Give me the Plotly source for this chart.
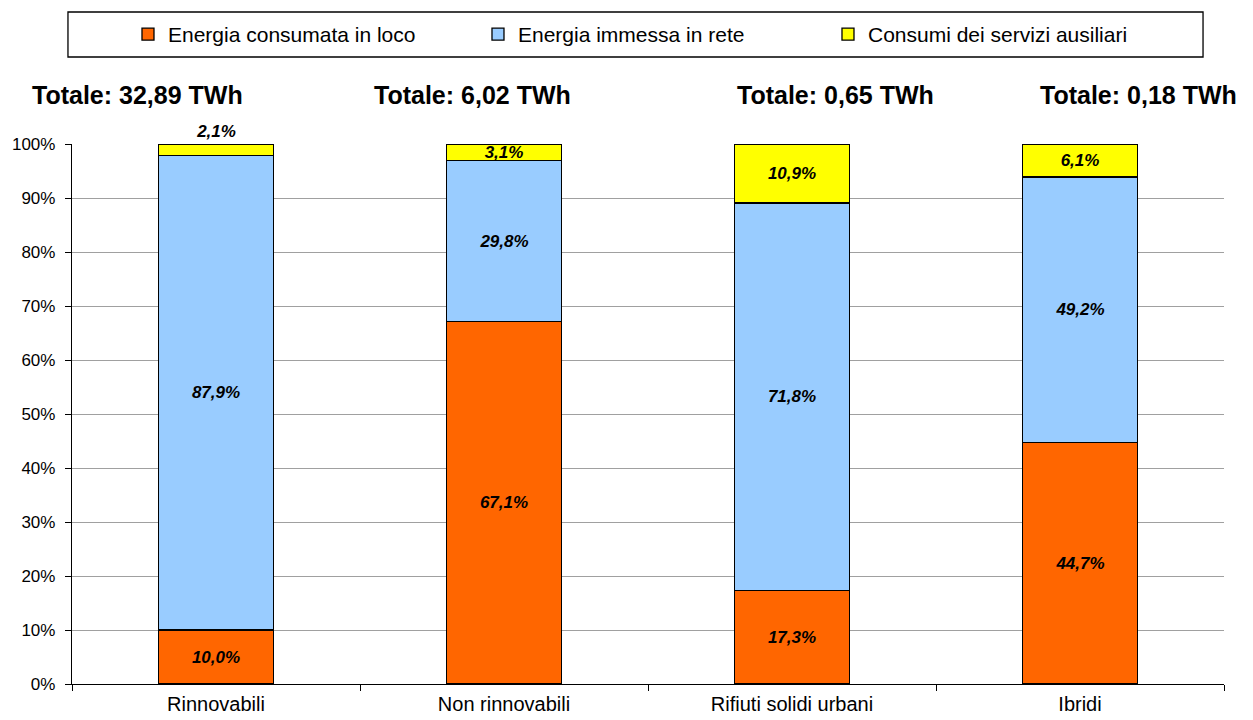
import plotly.graph_objects as go

categories = ["Rinnovabili", "Non rinnovabili", "Rifiuti solidi urbani", "Ibridi"]
consumata = [10.0, 67.1, 17.3, 44.7]
immessa = [87.9, 29.8, 71.8, 49.2]
ausiliari = [2.1, 3.1, 10.9, 6.1]
totali = ["Totale: 32,89 TWh", "Totale: 6,02 TWh", "Totale: 0,65 TWh", "Totale: 0,18 TWh"]
series_names = ["Energia consumata in loco", "Energia immessa in rete", "Consumi dei servizi ausiliari"]

FONT = "Liberation Sans, Arial, sans-serif"
colors = ["#FF6600", "#99CCFF", "#FFFF00"]

fig = go.Figure()
for name, vals, col, pos in [
    (series_names[0], consumata, colors[0], "inside"),
    (series_names[1], immessa, colors[1], "inside"),
    (series_names[2], ausiliari, colors[2], ["outside", "inside", "inside", "inside"]),
]:
    fig.add_trace(go.Bar(
        x=categories, y=vals, name=name,
        marker=dict(color=col, line=dict(color="black", width=1.3)),
        width=0.4,
        texttemplate="%{y:.1f}%",
        textposition=pos,
        insidetextanchor="middle",
        constraintext="none",
        cliponaxis=False,
        textfont=dict(family=FONT, size=17, color="black", weight="bold", style="italic"),
    ))

annotations = []
xs = [0.057, 0.348, 0.663, 0.926]
for t, xp in zip(totali, xs):
    annotations.append(dict(text=t, x=xp, y=1.091, xref="paper", yref="paper",
                            showarrow=False, xanchor="center", yanchor="middle",
                            font=dict(family=FONT, size=25, color="black", weight="bold")))

fig.update_layout(
    width=1245, height=712,
    barmode="stack",
    separators=",.",
    paper_bgcolor="white", plot_bgcolor="white",
    margin=dict(l=64, r=29, t=136, b=36, autoexpand=False),
    font=dict(family=FONT, color="black"),
    showlegend=True,
    legend=dict(orientation="h", x=0.0486, y=1.2028, xanchor="left", yanchor="middle",
                xref="paper", yref="paper",
                font=dict(family=FONT, size=21, color="black"),
                entrywidth=305, entrywidthmode="pixels",
                bgcolor="rgba(0,0,0,0)", traceorder="normal"),
    shapes=[dict(type="rect", xref="paper", yref="paper",
                 x0=-0.0035, x1=0.9818, y0=1.1611, y1=1.2444,
                 line=dict(color="black", width=1.3), fillcolor="rgba(0,0,0,0)")],
    annotations=annotations,
    xaxis=dict(type="category", tickson="boundaries", ticks="outside", ticklen=6,
               tickcolor="black", showline=True, linecolor="black", linewidth=1.3,
               showgrid=False, ticklabelstandoff=2,
               tickfont=dict(family=FONT, size=20, color="black")),
    yaxis=dict(range=[0, 100], dtick=10, ticksuffix="%", ticks="outside", ticklen=6,
               tickcolor="black", showline=True, linecolor="black", linewidth=1.3,
               showgrid=True, gridcolor="#A0A0A0", gridwidth=1, zeroline=False,
               ticklabelstandoff=6,
               tickfont=dict(family=FONT, size=17, color="black")),
)

fig.write_html("out.html")
